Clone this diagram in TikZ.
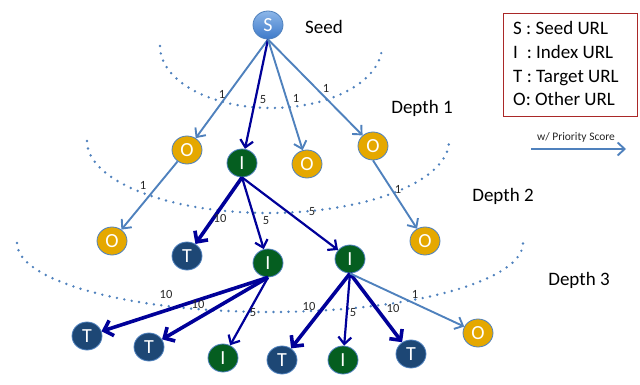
\documentclass[tikz,border=0pt]{standalone}
\usepackage{fontspec}
\setmainfont{Carlito}
\usetikzlibrary{shapes.geometric,arrows.meta}
\definecolor{lightblue}{RGB}{79,129,189}
\definecolor{navyc}{RGB}{0,0,153}
\definecolor{ocol}{RGB}{229,168,0}
\definecolor{icol}{RGB}{5,94,32}
\definecolor{tcol}{RGB}{29,71,117}
\definecolor{stop}{RGB}{140,182,232}
\definecolor{sbot}{RGB}{62,122,202}
\definecolor{legred}{RGB}{170,40,40}
\tikzset{
  nd/.style={ellipse, draw=lightblue, line width=0.8pt, minimum width=30pt, minimum height=28pt, inner sep=0pt, text=white, font=\fontsize{20}{20}\selectfont},
  onode/.style={nd, fill=ocol},
  inode/.style={nd, fill=icol},
  tnode/.style={nd, fill=tcol},
  snode/.style={nd, top color=stop, bottom color=sbot},
  light/.style={draw=lightblue, line width=1.9pt, -{Straight Barb[length=7pt,width=13pt]}},
  navyfive/.style={draw=navyc, line width=2.2pt, -{Straight Barb[length=7pt,width=13pt]}},
  navyten/.style={draw=navyc, line width=3.6pt, -{Straight Barb[length=8pt,width=16pt]}},
  lbl/.style={font=\fontsize{12.5}{13}\selectfont, inner sep=0pt, text=black!85},
  big/.style={font=\fontsize{19}{19}\selectfont, inner sep=0pt},
  dotline/.style={draw=lightblue, line width=2.7pt, line cap=round, dash pattern=on 0pt off 7.5pt},
}
\begin{document}
\begin{tikzpicture}[x=1pt,y=-1pt]
\useasboundingbox (0,0) rectangle (640,385);
% dotted depth arcs
\draw[dotline] plot[domain=180:360, samples=80] ({271+111*cos(\x)}, {46-62*sin(\x)});
\draw[dotline] plot[domain=180:360, samples=80] ({268+181*cos(\x)}, {141-72*sin(\x)});
\draw[dotline] plot[domain=180:360, samples=100] ({270+253*cos(\x)}, {243-69*sin(\x)});
% nodes
\node[snode] (S) at (268,25) {S};
\node[onode] (O1) at (187,150) {O};
\node[inode] (I1) at (242,163) {I};
\node[onode] (O2) at (307,164) {O};
\node[onode] (O3) at (373,146) {O};
\node[onode] (O4) at (112,241) {O};
\node[tnode] (T1) at (187,256) {T};
\node[inode] (I2) at (268,263) {I};
\node[inode] (I3) at (350,259) {I};
\node[onode] (O5) at (425,241) {O};
\node[tnode] (T2) at (87,336) {T};
\node[tnode] (T3) at (149,347) {T};
\node[inode] (I4) at (223,358) {I};
\node[tnode] (T4) at (282,360) {T};
\node[inode] (I5) at (343,360) {I};
\node[tnode] (T5) at (411,354) {T};
\node[onode] (O6) at (478,333) {O};
% edges
\draw[light] (S.south) -- (O1);
\draw[navyfive] (S.south) -- (I1);
\draw[light] (S.south) -- (O2);
\draw[light] (S.south) -- (O3);
\draw[light] (O1) -- (O4);
\draw[navyten] (I1.south) -- (T1);
\draw[navyfive] (I1.south) -- (I2);
\draw[navyfive] (I1.south) -- (I3);
\draw[light] (O3.south) -- (O5);
\draw[navyten] (I2.south) -- (T2);
\draw[navyten] (I2.south) -- (T3);
\draw[navyfive] (I2.south) -- (I4);
\draw[navyten] (I3.south) -- (T4);
\draw[navyfive] (I3.south) -- (I5);
\draw[navyten] (I3.south) -- (T5);
\draw[light] (I3.south) -- (O6);
% edge labels
\node[lbl] (l1) at (222,94) {1};
\node[lbl] (l2) at (263,100) {5};
\node[lbl] (l3) at (296,98) {1};
\node[lbl] (l4) at (326,88) {1};
\node[lbl] (l5) at (143,185) {1};
\node[lbl] (l6) at (220,218) {10};
\node[lbl] (l7) at (266,221) {5};
\node[lbl] (l8) at (312,212) {5};
\node[lbl] (l9) at (398,189) {1};
\node[lbl] (l10) at (166,294) {10};
\node[lbl] (l11) at (198,304) {10};
\node[lbl] (l12) at (253,313) {5};
\node[lbl] (l13) at (309,306) {10};
\node[lbl] (l14) at (353,313) {5};
\node[lbl] (l15) at (393,308) {10};
\node[lbl] (l16) at (415,294) {1};
% depth labels
\node[big, anchor=base] (seed) at (324,34) {Seed};
\node[big, anchor=base] (d1) at (422,114) {Depth 1};
\node[big, anchor=base] (d2) at (503,201) {Depth 2};
\node[big, anchor=base] (d3) at (579,285) {Depth 3};
% legend
\node[draw=legred, line width=1pt, minimum width=134pt, minimum height=103pt, inner sep=0pt] (legend) at (570,65.5) {};
\node[big, anchor=base west] (lg1) at (513,35) {S : Seed URL};
\node[big, anchor=base west] (lg2) at (513,59) {I\hspace{4.5pt} : Index URL};
\node[big, anchor=base west] (lg3) at (513,83) {T : Target URL};
\node[big, anchor=base west] (lg4) at (513,106) {O: Other URL};
\coordinate (p1) at (531,149);
\coordinate (p2) at (626,149);
\draw[light] (p1) -- (p2);
\node[lbl, font=\fontsize{11.5}{12}\selectfont] (plbl) at (576,137) {w/ Priority Score};
\end{tikzpicture}
\end{document}
